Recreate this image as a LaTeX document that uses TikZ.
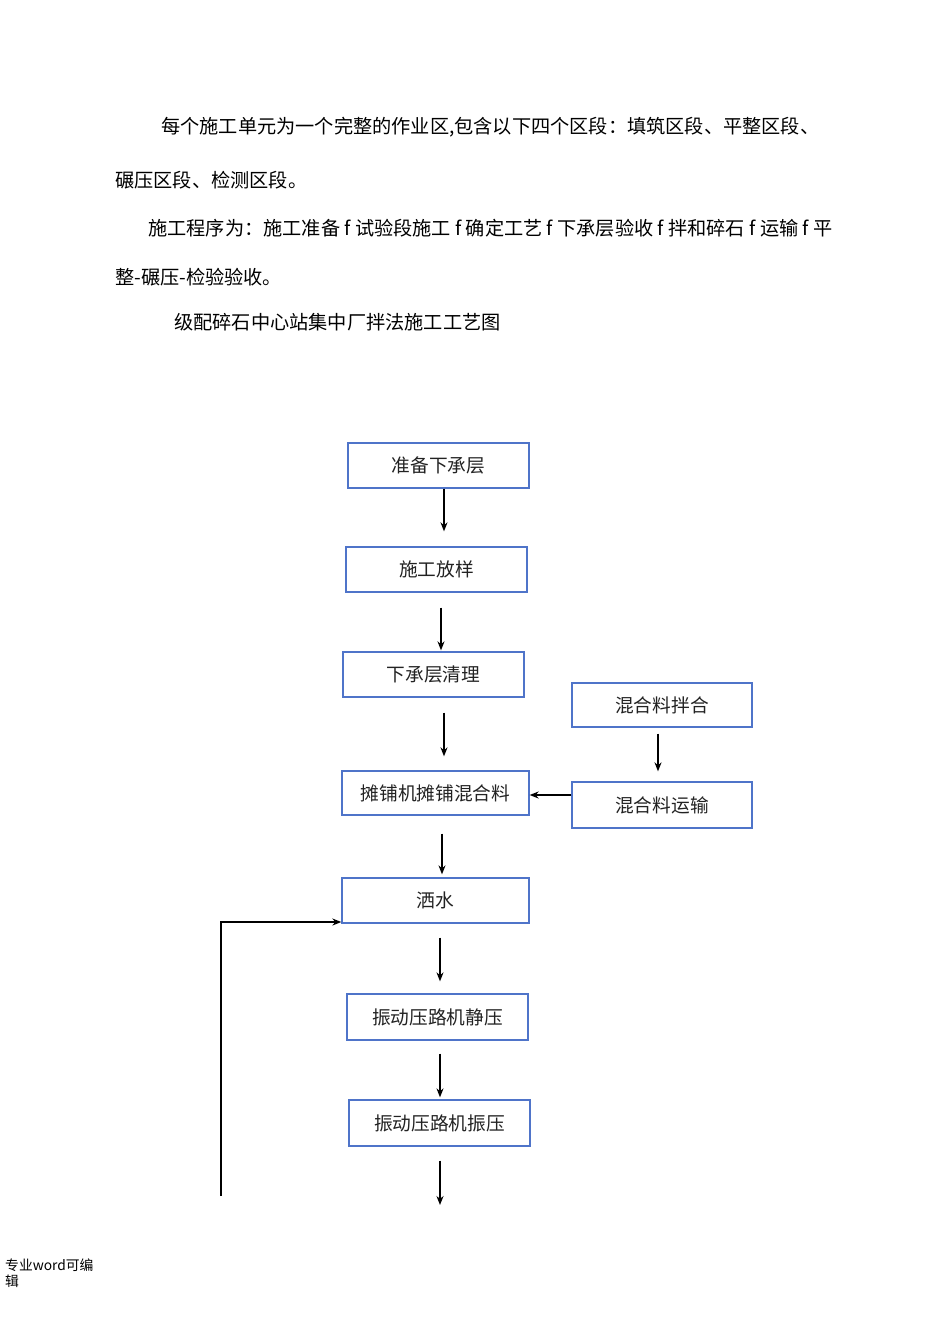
\documentclass[tikz,border=0pt]{standalone}
\usepackage{fontspec}
\newfontfamily\cjk{Noto Sans CJK SC}
\usetikzlibrary{arrows.meta}
\definecolor{boxblue}{HTML}{4F74C9}
\definecolor{txt}{HTML}{222222}
\tikzset{
  procbox/.style={draw=boxblue, line width=1.3pt, inner sep=0pt, text=txt,
    font=\cjk\fontsize{18.7}{20}\selectfont},
  arr/.style={draw=black, line width=1.7pt, -{Stealth[length=9pt,width=7pt]}},
  para/.style={anchor=west, inner sep=0pt, text=black, font=\cjk\fontsize{19.2}{20}\selectfont},
  foot/.style={anchor=west, inner sep=0pt, text=black, font=\cjk\fontsize{13.8}{15}\selectfont}
}
\begin{document}
\begin{tikzpicture}[x=1pt,y=-1pt]
\useasboundingbox (0,0) rectangle (950,1344);
% paragraphs
\node[para] (p1) at (161,127) {每个施工单元为一个完整的作业区,包含以下四个区段：填筑区段、平整区段、};
\node[para] (p2) at (115,180) {碾压区段、检测区段。};
\node[para] (p3) at (148,228) {施工程序为：施工准备 f 试验段施工 f 确定工艺 f 下承层验收 f 拌和碎石 f 运输 f 平};
\node[para] (p4) at (115,277) {整-碾压-检验验收。};
\node[para] (p5) at (174,322) {级配碎石中心站集中厂拌法施工工艺图};
% boxes
\node[procbox, minimum width=181pt, minimum height=45pt] (b1) at (438.5,465.5) {准备下承层};
\node[procbox, minimum width=181pt, minimum height=45pt] (b2) at (436.5,569.5) {施工放样};
\node[procbox, minimum width=181pt, minimum height=45pt] (b3) at (433.5,674.5) {下承层清理};
\node[procbox, minimum width=187pt, minimum height=44pt] (b4) at (435.5,793) {摊铺机摊铺混合料};
\node[procbox, minimum width=180pt, minimum height=44pt] (b5) at (662,705) {混合料拌合};
\node[procbox, minimum width=180pt, minimum height=46pt] (b6) at (662,805) {混合料运输};
\node[procbox, minimum width=187pt, minimum height=45pt] (b7) at (435.5,900.5) {洒水};
\node[procbox, minimum width=181pt, minimum height=46pt] (b8) at (437.5,1017) {振动压路机静压};
\node[procbox, minimum width=181pt, minimum height=46pt] (b9) at (439.5,1123) {振动压路机振压};
% arrows
\draw[arr] ([xshift=5.5pt]b1.south) -- ([xshift=7.5pt,yshift=15pt]b2.north);
\draw[arr] ([xshift=4.5pt,yshift=-15pt]b2.south) -- ([xshift=7.5pt,yshift=1pt]b3.north);
\draw[arr] ([xshift=10.5pt,yshift=-15pt]b3.south) -- ([xshift=8.5pt,yshift=14pt]b4.north);
\draw[arr] ([xshift=-4pt,yshift=-6pt]b5.south) -- ([xshift=-4pt,yshift=10pt]b6.north);
\draw[arr] ([yshift=10pt]b6.west) -- ([yshift=10pt]b6.west -| b4.east);
\draw[arr] ([xshift=6.5pt,yshift=-18pt]b4.south) -- ([xshift=6.5pt,yshift=3pt]b7.north);
\draw[arr] ([xshift=4.5pt,yshift=-14pt]b7.south) -- ([xshift=2.5pt,yshift=12pt]b8.north);
\draw[arr] ([xshift=2.5pt,yshift=-13pt]b8.south) -- ([xshift=0.5pt,yshift=2pt]b9.north);
\coordinate (endc) at (440,1205);
\draw[arr] ([xshift=0.5pt,yshift=-14pt]b9.south) -- (endc);
\coordinate (fb) at (221,1196);
\draw[arr] (fb) |- ([yshift=-21.5pt]b7.west);
% footer
\node[foot] (f1) at (5,1265) {专业word可编};
\node[foot] (f2) at (5,1281) {辑};
\end{tikzpicture}
\end{document}
